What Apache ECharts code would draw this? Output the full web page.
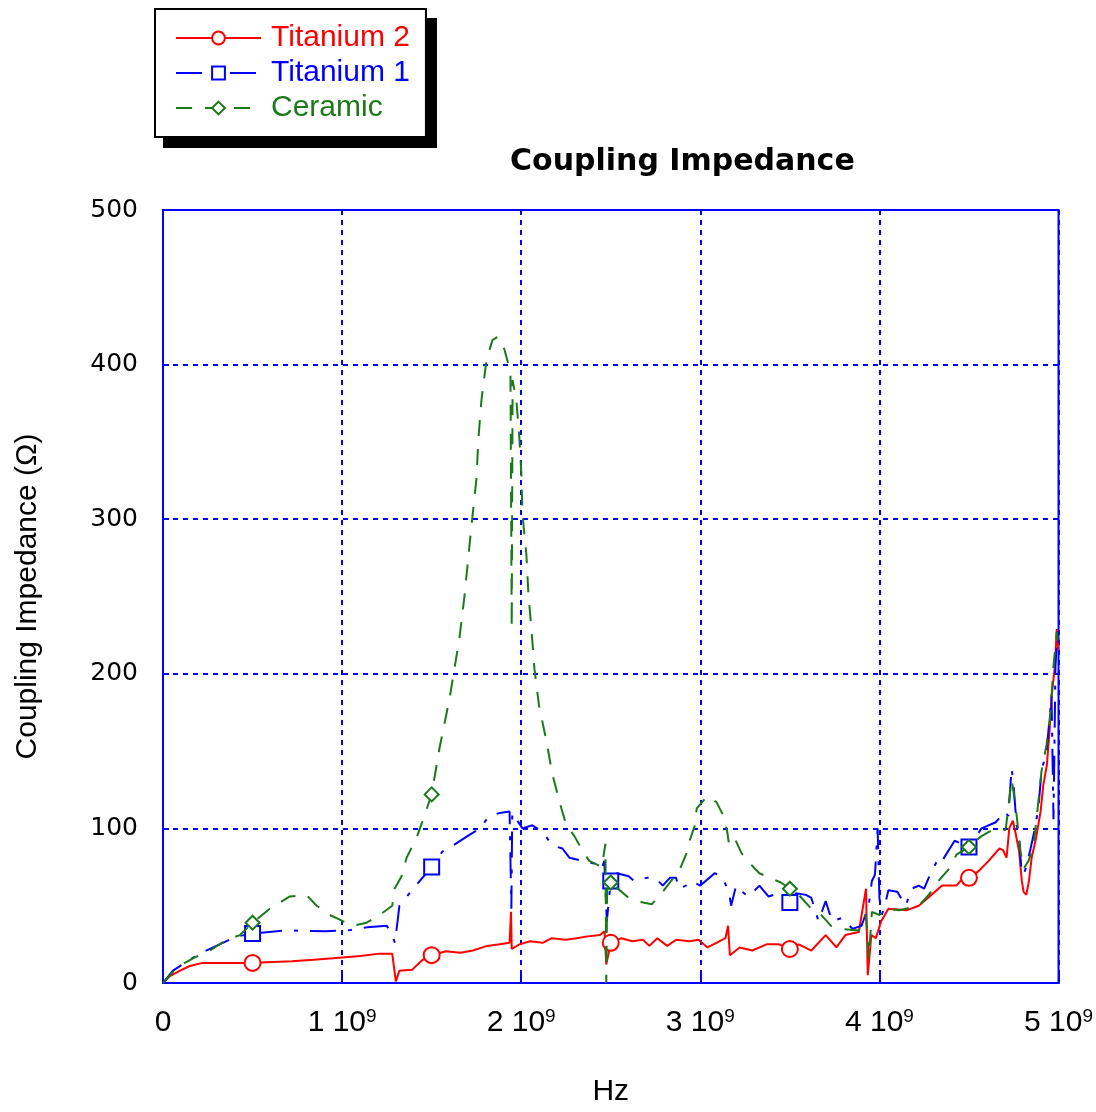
<!DOCTYPE html>
<html>
<head>
<meta charset="utf-8">
<script src="https://cdn.jsdelivr.net/npm/echarts@6/dist/echarts.min.js"></script>
<style>html,body{margin:0;padding:0;background:#fff;}#c{width:1096px;height:1112px;}</style>
</head>
<body>
<div id="c"></div>
<script>
// x in units of 1e9 Hz, y in Ohm
const seriesNames = ['Titanium 2', 'Titanium 1', 'Ceramic'];
const xTicks = [0, 1, 2, 3, 4, 5];
const yTicks = [0, 100, 200, 300, 400, 500];
const markerX = [0.5, 1.5, 2.5, 3.5, 4.5];

const titanium2 = [[0,0],[0.039,4.5],[0.095,8],[0.15,11],[0.22,13],[0.36,13],[0.5,13],[0.58,13.5],[0.72,14],[0.84,15],[0.95,16],[1.1,17.5],[1.21,19],[1.28,19],[1.30,1],[1.32,8],[1.39,8.5],[1.45,15],[1.5,18],[1.58,20.5],[1.66,19.5],[1.73,21],[1.81,24],[1.88,25],[1.935,26],[1.943,46],[1.947,22],[1.99,25],[2.05,27],[2.12,26],[2.17,29],[2.25,28],[2.31,29],[2.36,30],[2.44,31],[2.465,33.5],[2.475,12],[2.5,26],[2.56,29],[2.62,27],[2.68,28],[2.715,24],[2.76,29],[2.815,24],[2.865,28],[2.94,27],[2.99,28],[3.04,23],[3.09,26],[3.14,29],[3.155,37],[3.165,18],[3.22,23],[3.29,21],[3.37,25],[3.44,25],[3.5,22],[3.55,25],[3.62,21],[3.7,31],[3.76,23],[3.81,31],[3.885,33],[3.925,61],[3.935,5],[3.955,31],[3.98,29],[4.01,40],[4.05,48],[4.15,47],[4.22,50],[4.29,57],[4.35,63],[4.43,63],[4.46,67],[4.5,68],[4.55,72],[4.61,79],[4.67,87],[4.69,86],[4.71,81],[4.725,100],[4.745,105],[4.76,97],[4.78,85],[4.795,66],[4.805,59],[4.82,57],[4.835,66],[4.85,81],[4.875,94],[4.9,111],[4.915,128],[4.935,141],[4.95,163],[4.96,184],[4.98,205],[4.99,229],[5.0,215]];

const titanium1 = [[0,0],[0.056,8],[0.134,14],[0.206,19],[0.334,26],[0.41,30],[0.5,32],[0.69,34],[0.91,33.5],[1.03,34],[1.14,36],[1.25,37],[1.285,29],[1.295,26],[1.32,50],[1.39,60],[1.47,71],[1.5,75],[1.56,85],[1.62,89],[1.7,95],[1.77,100],[1.82,108],[1.88,110],[1.935,111],[1.943,112],[1.945,48],[1.95,110],[1.973,106],[2.007,100],[2.062,102],[2.118,98],[2.174,89],[2.23,87],[2.27,81],[2.34,79],[2.42,77],[2.45,74],[2.464,79],[2.478,40],[2.5,66],[2.536,71],[2.6,69],[2.63,66],[2.7,68],[2.75,68],[2.79,63],[2.83,68],[2.865,68],[2.88,61],[2.92,63],[2.95,66],[3.0,63],[3.05,68],[3.08,71],[3.12,69],[3.16,59],[3.172,50],[3.2,63],[3.233,59],[3.27,56],[3.33,63],[3.38,56],[3.44,58],[3.5,52],[3.534,58],[3.59,57],[3.62,55],[3.66,40],[3.7,53],[3.735,40],[3.79,42],[3.85,35],[3.9,37],[3.94,50],[3.958,66],[3.975,70],[3.99,100],[4.0,55],[4.013,44],[4.03,50],[4.05,60],[4.1,59],[4.147,50],[4.18,61],[4.22,63],[4.25,61],[4.275,68],[4.33,81],[4.35,79],[4.42,92],[4.5,88],[4.57,100],[4.65,104],[4.7,111],[4.72,108],[4.738,139],[4.749,128],[4.766,102],[4.777,98],[4.794,72],[4.805,70],[4.822,76],[4.844,87],[4.872,102],[4.889,115],[4.905,137],[4.933,150],[4.955,177],[4.961,186],[4.972,106],[4.983,205],[4.995,229],[5.0,220]];

const ceramic = [[0,0],[0.078,10],[0.167,16],[0.262,21],[0.357,28],[0.43,31],[0.5,39],[0.596,48],[0.708,56],[0.8,57],[0.858,50],[0.931,44],[0.987,41],[1.059,37],[1.137,39],[1.21,44],[1.28,50],[1.293,61],[1.332,69],[1.36,81],[1.416,94],[1.45,105],[1.5,122],[1.544,152],[1.6,184],[1.655,223],[1.683,250],[1.706,277],[1.728,302],[1.75,326],[1.761,352],[1.778,377],[1.806,403],[1.84,416],[1.87,418],[1.906,410],[1.94,395],[1.947,230],[1.952,390],[1.973,377],[1.99,352],[2.001,329],[2.007,303],[2.029,277],[2.04,252],[2.057,229],[2.074,203],[2.1,179],[2.14,157],[2.174,135],[2.224,113],[2.25,103],[2.297,95],[2.34,86],[2.38,79],[2.45,75],[2.47,90],[2.475,0],[2.48,60],[2.5,65],[2.6,55],[2.68,52],[2.73,51],[2.79,59],[2.85,68],[2.88,72],[2.92,83],[2.94,92],[2.97,102],[2.98,113],[3.04,121],[3.09,117],[3.13,108],[3.15,98],[3.16,90],[3.19,94],[3.23,84],[3.28,77],[3.33,71],[3.45,65],[3.5,61],[3.55,57],[3.62,48],[3.66,46],[3.73,37],[3.79,35],[3.885,34],[3.924,44],[3.941,16],[3.958,46],[4.0,44],[4.05,48],[4.11,47],[4.22,50],[4.275,57],[4.33,66],[4.39,74],[4.43,83],[4.5,88],[4.57,95],[4.63,99],[4.705,99],[4.738,132],[4.76,115],[4.788,85],[4.805,74],[4.833,79],[4.861,89],[4.889,119],[4.905,137],[4.933,154],[4.955,175],[4.972,205],[4.99,227],[5.0,215]];

const BLUE = '#0000ff', RED = '#ff0000', GREEN = '#1a7a1a';

function withMarkers(pts) {
  return pts.map(p => markerX.indexOf(p[0]) >= 0 ? {value: p} : {value: p, symbol: 'none'});
}

const chart = echarts.init(document.getElementById('c'), null, {renderer: 'canvas'});
chart.setOption({
  animation: false,
  backgroundColor: '#ffffff',
  title: {
    text: 'Coupling Impedance',
    left: 505, top: 142,
    textStyle: {fontFamily: 'DejaVu Sans', fontWeight: 'bold', fontSize: 30, color: '#000'}
  },
  graphic: [{
    type: 'rect', z: 0, zlevel: 0,
    shape: {x: 163, y: 18, width: 274, height: 130},
    style: {fill: '#000'}
  }],
  legend: {
    orient: 'vertical', left: 155, top: 9, z: 10,
    padding: [13, 16, 13, 20],
    itemWidth: 85, itemHeight: 16, itemGap: 3,
    backgroundColor: '#ffffff', borderColor: '#000', borderWidth: 2,
    textStyle: {fontFamily: 'Liberation Sans', fontSize: 30, lineHeight: 32, padding: [0, 0, 0, 5]},
    data: [
      {name: seriesNames[0], textStyle: {color: RED}},
      {name: seriesNames[1], textStyle: {color: BLUE}},
      {name: seriesNames[2], textStyle: {color: GREEN}}
    ]
  },
  grid: {left: 163, right: 36, top: 210, bottom: 116, show: true, borderColor: BLUE, borderWidth: 2, backgroundColor: 'transparent'},
  xAxis: {
    type: 'value', min: xTicks[0], max: xTicks[xTicks.length - 1], interval: 1,
    name: 'Hz', nameLocation: 'middle', nameGap: 94,
    nameTextStyle: {fontFamily: 'Liberation Sans', fontSize: 30, color: '#000'},
    axisLine: {lineStyle: {color: BLUE, width: 2}},
    axisTick: {inside: true, length: 9, lineStyle: {color: BLUE, width: 2}},
    splitLine: {show: true, lineStyle: {color: BLUE, width: 2, type: [5, 5]}},
    axisLabel: {
      margin: 24, color: '#000',
      formatter: v => v === 0 ? '{n|0}' : '{n|' + v + ' 10}{s|9}',
      rich: {
        n: {fontFamily: 'Liberation Sans', fontSize: 30, lineHeight: 32, color: '#000'},
        s: {fontFamily: 'Liberation Sans', fontSize: 19, verticalAlign: 'top', color: '#000'}
      }
    }
  },
  yAxis: {
    type: 'value', min: yTicks[0], max: yTicks[yTicks.length - 1], interval: 100,
    name: 'Coupling Impedance (Ω)', nameLocation: 'middle', nameGap: 120, nameRotate: 90,
    nameTextStyle: {fontFamily: 'Liberation Sans', fontSize: 30, color: '#000'},
    axisLine: {show: true, lineStyle: {color: BLUE, width: 2}},
    axisTick: {show: true, inside: true, length: 6, lineStyle: {color: BLUE, width: 2}},
    splitLine: {show: true, lineStyle: {color: BLUE, width: 2, type: [5, 5]}},
    axisLabel: {margin: 25, color: '#000', fontFamily: 'DejaVu Sans', fontSize: 25}
  },
  series: [
    {
      name: seriesNames[0], type: 'line', data: withMarkers(titanium2),
      symbol: 'emptyCircle', symbolSize: 16, showAllSymbol: true,
      lineStyle: {color: RED, width: 2, type: 'solid'},
      itemStyle: {color: RED, borderColor: RED, borderWidth: 2},
      emphasis: {disabled: true}, z: 2
    },
    {
      name: seriesNames[1], type: 'line', data: withMarkers(titanium1),
      symbol: 'emptyRect', symbolSize: 15, showAllSymbol: true,
      lineStyle: {color: BLUE, width: 2, type: [26, 12, 4, 12]},
      itemStyle: {color: BLUE, borderColor: BLUE, borderWidth: 2},
      emphasis: {disabled: true}, z: 3
    },
    {
      name: seriesNames[2], type: 'line', data: withMarkers(ceramic),
      symbol: 'emptyDiamond', symbolSize: 14, showAllSymbol: true,
      lineStyle: {color: GREEN, width: 2, type: [16, 13]},
      itemStyle: {color: GREEN, borderColor: GREEN, borderWidth: 2},
      emphasis: {disabled: true}, z: 4
    }
  ]
});
</script>
</body>
</html>
